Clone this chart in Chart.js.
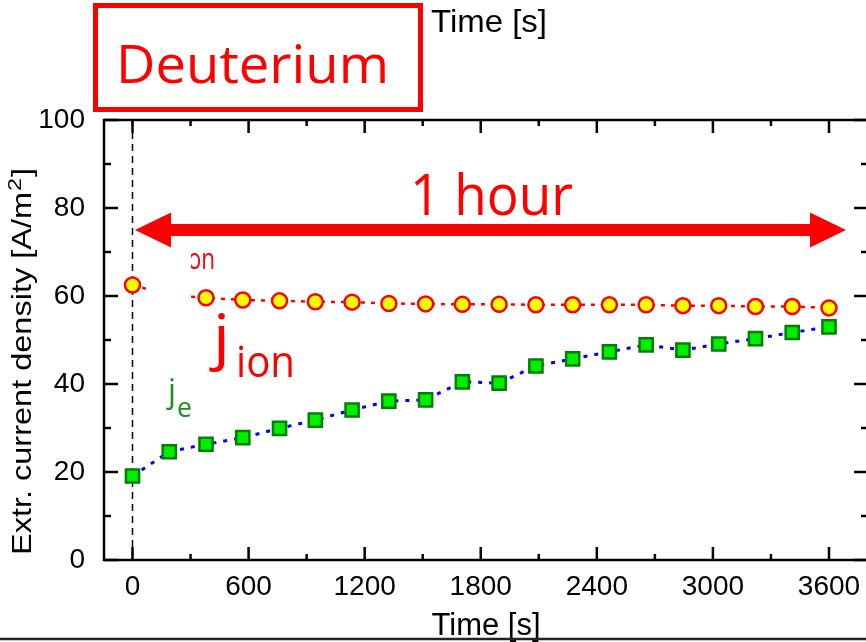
<!DOCTYPE html>
<html>
<head>
<meta charset="utf-8">
<script src="https://cdn.jsdelivr.net/npm/chart.js@4.4.1/dist/chart.umd.min.js"></script>
<style>
  html, body { margin: 0; padding: 0; overflow: hidden; background: #fff; }
  canvas { display: block; }
</style>
</head>
<body>
<canvas id="chart" width="870" height="642"></canvas>
<script>
// values
const times = [0, 190, 380, 570, 760, 945, 1135, 1325, 1515, 1705, 1895, 2085, 2275, 2465, 2655, 2845, 3030, 3220, 3410, 3600];
const jIon = [62.5, 60.2, 59.6, 59.1, 58.9, 58.7, 58.6, 58.3, 58.2, 58.1, 58.1, 58.0, 58.0, 58.0, 58.0, 57.8, 57.8, 57.6, 57.6, 57.3];
const jE = [19.1, 24.6, 26.3, 27.8, 29.9, 31.8, 34.1, 36.1, 36.4, 40.5, 40.2, 44.1, 45.7, 47.3, 48.9, 47.7, 49.1, 50.3, 51.7, 53.0];
const xTicks = [0, 600, 1200, 1800, 2400, 3000, 3600];
const xMinor = [300, 900, 1500, 2100, 2700, 3300];
const yTicks = [0, 20, 40, 60, 80, 100];
const yMinor = [10, 30, 50, 70, 90];
const arrowSpan = [13, 3688]; // the "1 hour" arrow, in seconds
const arrowLevel = 75;

const RED = '#ff0000';
const CAL = '"Open Sans", "Noto Sans", sans-serif';
const ARIAL = '"Liberation Sans", Arial, sans-serif';

// squeeze text to a given width (the original used a narrow font)
function fitText(ctx, txt, x, y, size, w, family, color) {
  ctx.save();
  ctx.font = size + 'px ' + family;
  const m = ctx.measureText(txt).width;
  ctx.translate(x, y);
  ctx.scale(w / m, 1);
  ctx.fillStyle = color;
  ctx.textBaseline = 'alphabetic';
  ctx.textAlign = 'left';
  ctx.fillText(txt, 0, 0);
  ctx.restore();
}

const noPad = s => { s.paddingLeft = 0; s.paddingRight = 0; s.paddingTop = 0; s.paddingBottom = 0; };

const decor = {
  id: 'decor',
  beforeDatasetsDraw(chart) {
    const { ctx, chartArea: a, scales: { x } } = chart;
    // dashed start line at t = 0
    ctx.save();
    ctx.strokeStyle = '#000';
    ctx.lineWidth = 1.5;
    ctx.setLineDash([7, 5]);
    ctx.beginPath();
    ctx.moveTo(x.getPixelForValue(0), a.top);
    ctx.lineTo(x.getPixelForValue(0), a.bottom);
    ctx.stroke();
    ctx.restore();
  },
  afterDatasetsDraw(chart) {
    const { ctx, chartArea: a, scales: { x, y } } = chart;

    // small j_ion label, mostly hidden under a white patch
    fitText(ctx, 'j', 172, 262, 30, 7, CAL, RED);
    fitText(ctx, 'ion', 182, 269, 29, 33, CAL, RED);
    ctx.save();
    ctx.fillStyle = '#fff';
    ctx.fillRect(146, 232, 45, 74);

    // frame
    ctx.strokeStyle = '#000';
    ctx.lineWidth = 2.5;
    ctx.strokeRect(a.left, a.top, a.right - a.left, a.bottom - a.top);
    // inward ticks on all four sides
    ctx.beginPath();
    xTicks.forEach(v => {
      const px = x.getPixelForValue(v);
      ctx.moveTo(px, a.bottom); ctx.lineTo(px, a.bottom - 13);
      ctx.moveTo(px, a.top); ctx.lineTo(px, a.top + 13);
    });
    xMinor.forEach(v => {
      const px = x.getPixelForValue(v);
      ctx.moveTo(px, a.bottom); ctx.lineTo(px, a.bottom - 6);
      ctx.moveTo(px, a.top); ctx.lineTo(px, a.top + 6);
    });
    yTicks.forEach(v => {
      const py = y.getPixelForValue(v);
      ctx.moveTo(a.left, py); ctx.lineTo(a.left + 14, py);
      ctx.moveTo(a.right, py); ctx.lineTo(a.right - 14, py);
    });
    yMinor.forEach(v => {
      const py = y.getPixelForValue(v);
      ctx.moveTo(a.left, py); ctx.lineTo(a.left + 7, py);
      ctx.moveTo(a.right, py); ctx.lineTo(a.right - 7, py);
    });
    ctx.stroke();

    // double arrow
    const x0 = x.getPixelForValue(arrowSpan[0]);
    const x1 = x.getPixelForValue(arrowSpan[1]);
    const ya = y.getPixelForValue(arrowLevel);
    const hl = 36, hh = 17.5, sh = 6;
    ctx.fillStyle = RED;
    ctx.beginPath();
    ctx.moveTo(x0, ya);
    ctx.lineTo(x0 + hl, ya - hh);
    ctx.lineTo(x0 + hl, ya - sh);
    ctx.lineTo(x1 - hl, ya - sh);
    ctx.lineTo(x1 - hl, ya - hh);
    ctx.lineTo(x1, ya);
    ctx.lineTo(x1 - hl, ya + hh);
    ctx.lineTo(x1 - hl, ya + sh);
    ctx.lineTo(x0 + hl, ya + sh);
    ctx.lineTo(x0 + hl, ya + hh);
    ctx.closePath();
    ctx.fill();
    ctx.restore();

    fitText(ctx, '1 hour', 410, 215, 56, 163, CAL, RED);

    // big j_ion label
    fitText(ctx, 'j', 213, 358, 61, 17, CAL, RED);
    fitText(ctx, 'ion', 236, 377, 44, 59, CAL, RED);
    // j_e label
    fitText(ctx, 'j', 168, 402, 33, 8, CAL, '#1e8f1e');
    fitText(ctx, 'e', 177, 417, 28, 15, CAL, '#1e8f1e');
  },
  afterDraw(chart) {
    const { ctx } = chart;
    ctx.save();
    ctx.strokeStyle = RED;
    ctx.lineWidth = 5;
    ctx.strokeRect(95.5, 5.5, 325, 104);
    ctx.strokeStyle = '#222';
    ctx.lineWidth = 2.5;
    ctx.beginPath();
    ctx.moveTo(0, 639);
    ctx.lineTo(870, 639);
    ctx.stroke();
    // y axis title, stretched like the original
    ctx.translate(31, 555);
    ctx.rotate(-Math.PI / 2);
    fitText(ctx, 'Extr. current density [A/m', 0, 0, 28, 363, ARIAL, '#000');
    fitText(ctx, '2', 364, -10, 19, 13, ARIAL, '#000');
    fitText(ctx, ']', 378, 0, 28, 9, ARIAL, '#000');
    ctx.restore();
    fitText(ctx, 'Deuterium', 116, 83, 53, 273, CAL, RED);
    fitText(ctx, 'Time [s]', 431, 32, 32, 116, ARIAL, '#000');
  }
};

new Chart(document.getElementById('chart'), {
  type: 'line',
  data: {
    datasets: [
      {
        label: 'j ion',
        data: times.map((t, i) => ({ x: t, y: jIon[i] })),
        borderColor: RED,
        borderWidth: 2.5,
        borderDash: [4, 6],
        pointStyle: 'circle',
        pointRadius: 7.5,
        pointBorderWidth: 2.5,
        pointBorderColor: RED,
        pointBackgroundColor: '#ffff00',
        tension: 0
      },
      {
        label: 'j e',
        data: times.map((t, i) => ({ x: t, y: jE[i] })),
        borderColor: '#0000ff',
        borderWidth: 3,
        borderDash: [4, 7],
        pointStyle: 'rect',
        pointRadius: 9.3,
        pointBorderWidth: 2.5,
        pointBorderColor: '#008000',
        pointBackgroundColor: '#00ee00',
        tension: 0
      }
    ]
  },
  options: {
    responsive: false,
    animation: false,
    layout: { autoPadding: false, padding: { top: 120, right: 2, left: 0, bottom: 0 } },
    plugins: { legend: { display: false }, tooltip: { enabled: false } },
    scales: {
      x: {
        type: 'linear',
        min: -147.3,
        max: 3801.6,
        afterBuildTicks: s => { s.ticks = xTicks.map(v => ({ value: v })); },
        afterFit: s => { s.height = 82; noPad(s); },
        grid: { display: false, drawTicks: false },
        border: { display: false },
        ticks: {
          color: '#000',
          font: { family: ARIAL, size: 28 },
          padding: 10,
          maxRotation: 0,
          autoSkip: false,
          callback: v => String(v)
        },
        title: {
          display: true,
          text: 'Time [s]',
          color: '#000',
          font: { family: ARIAL, size: 31, lineHeight: 1.0 },
          padding: { top: 0, bottom: 0 }
        }
      },
      y: {
        min: 0,
        max: 100,
        afterBuildTicks: s => { s.ticks = yTicks.map(v => ({ value: v })); },
        afterFit: s => { s.width = 104; noPad(s); },
        grid: { display: false, drawTicks: false },
        border: { display: false },
        ticks: {
          color: '#000',
          font: { family: ARIAL, size: 28 },
          padding: 19,
          callback: v => String(v)
        },
        title: { display: false }
      }
    }
  },
  plugins: [decor]
});
</script>
</body>
</html>
